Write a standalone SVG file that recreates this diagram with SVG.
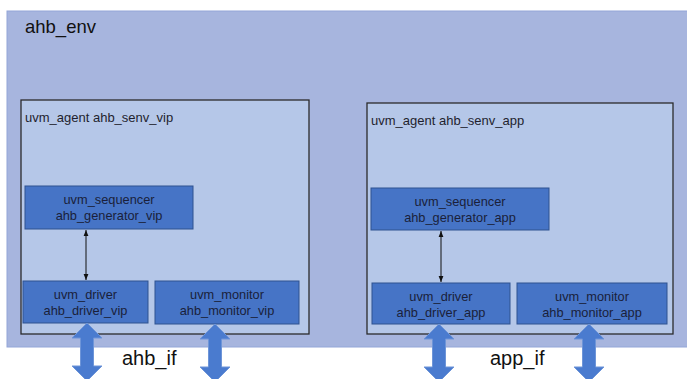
<svg xmlns="http://www.w3.org/2000/svg" width="687" height="379" viewBox="0 0 687 379">
<defs>
<style>
.env{fill:#a7b5de;stroke:#93a6d8;stroke-width:1}
.agent{fill:#b5c7e8;stroke:#2b2b2b;stroke-width:1.3}
.blk{fill:#4674c6;stroke:#2f528f;stroke-width:1}
.lbl{font-family:"Liberation Sans",Arial,sans-serif;font-size:13px;fill:#1f1f2e}
.ntx{font-family:"Liberation Sans",Arial,sans-serif;font-size:12.8px;fill:#1a1f3a;text-anchor:middle}
.big{font-family:"Liberation Sans",Arial,sans-serif;font-size:18.5px;fill:#111}
.ifl{font-family:"Liberation Sans",Arial,sans-serif;font-size:20px;fill:#111}
.con{stroke:#111;stroke-width:1;fill:none}
.barrow{fill:#4a7bcf;stroke:#6e95d8;stroke-width:1}
</style>
<marker id="ah" viewBox="0 0 10 10" refX="10" refY="5" markerWidth="6" markerHeight="6" orient="auto-start-reverse">
<path d="M0,1 L10,5 L0,9 Z" fill="#111"/>
</marker>
<path id="dbl" d="M0,0 L15,15 L6.5,15 L6.5,43 L15,43 L0,58 L-15,43 L-6.5,43 L-6.5,15 L-15,15 Z"/>
</defs>
<rect x="0" y="0" width="687" height="379" fill="#ffffff"/>
<g id="ahb_env">
<rect class="env" x="7" y="11" width="682" height="336"/>
<text class="big" x="25" y="33">ahb_env</text>
</g>
<g id="agent_vip">
<rect class="agent" x="21" y="100" width="288" height="234"/>
<text class="lbl" x="25" y="122">uvm_agent ahb_senv_vip</text>
</g>
<g id="agent_app">
<rect class="agent" x="367" y="103" width="306" height="231"/>
<text class="lbl" x="371" y="125">uvm_agent ahb_senv_app</text>
</g>
<g id="seq_vip">
<rect class="blk" x="25" y="186" width="168" height="43"/>
<text class="ntx" x="109" y="204">uvm_sequencer</text>
<text class="ntx" x="109" y="220">ahb_generator_vip</text>
</g>
<g id="drv_vip">
<rect class="blk" x="23" y="281" width="125" height="42"/>
<text class="ntx" x="85.5" y="299">uvm_driver</text>
<text class="ntx" x="85.5" y="315">ahb_driver_vip</text>
</g>
<g id="mon_vip">
<rect class="blk" x="155" y="281" width="144" height="43"/>
<text class="ntx" x="227" y="299">uvm_monitor</text>
<text class="ntx" x="227" y="315">ahb_monitor_vip</text>
</g>
<g id="seq_app">
<rect class="blk" x="371" y="188" width="178" height="42"/>
<text class="ntx" x="460" y="206">uvm_sequencer</text>
<text class="ntx" x="460" y="222">ahb_generator_app</text>
</g>
<g id="drv_app">
<rect class="blk" x="372" y="283" width="138" height="41"/>
<text class="ntx" x="441" y="301">uvm_driver</text>
<text class="ntx" x="441" y="317">ahb_driver_app</text>
</g>
<g id="mon_app">
<rect class="blk" x="517" y="283" width="150" height="41"/>
<text class="ntx" x="592" y="301">uvm_monitor</text>
<text class="ntx" x="592" y="317">ahb_monitor_app</text>
</g>
<g id="connectors">
<line class="con" x1="86" y1="230" x2="86" y2="280" marker-start="url(#ah)" marker-end="url(#ah)"/>
<line class="con" x1="441" y1="231" x2="441" y2="282" marker-start="url(#ah)" marker-end="url(#ah)"/>
<use href="#dbl" class="barrow" x="87" y="323"/>
<use href="#dbl" class="barrow" x="215" y="324"/>
<use href="#dbl" class="barrow" x="439" y="324"/>
<use href="#dbl" class="barrow" x="589" y="324"/>
</g>
<g id="if_labels">
<text class="ifl" x="122" y="365">ahb_if</text>
<text class="ifl" x="490" y="365">app_if</text>
</g>
</svg>
